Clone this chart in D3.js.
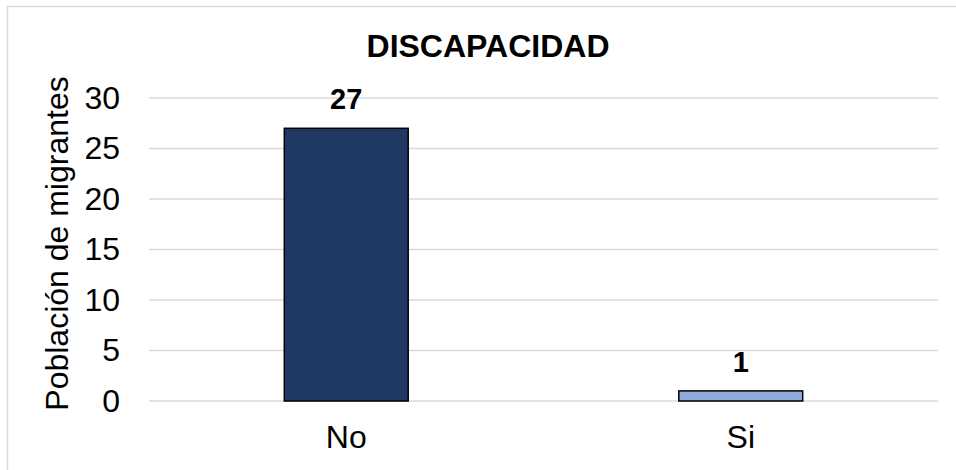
<!DOCTYPE html>
<html>
<head>
<meta charset="utf-8">
<script src="https://cdn.jsdelivr.net/npm/d3@7"></script>
<style>
  body { margin: 0; background: #fff; }
  text { font-family: "Liberation Sans", Arial, sans-serif; fill: #000; }
</style>
</head>
<body>
<div id="chart"></div>
<script>
// data
var categories = ["No", "Si"];
var values = [27, 1];
var barColors = ["#203864", "#8FAADC"];
var yTicks = [0, 5, 10, 15, 20, 25, 30];
var title = "DISCAPACIDAD";
var yLabel = "Población de migrantes";

var W = 956, H = 470;
var margin = {top: 98, right: 18, bottom: 69, left: 149};
var width = W - margin.left - margin.right,
    height = H - margin.top - margin.bottom;

var svg = d3.select("#chart").append("svg")
    .attr("width", W)
    .attr("height", H);

// outer chart border (right/bottom fall outside the picture)
svg.append("rect")
    .attr("x", 7.5).attr("y", 6.5)
    .attr("width", W + 20).attr("height", H + 20)
    .attr("fill", "none")
    .attr("stroke", "#D9D9D9")
    .attr("stroke-width", 1.5);

var g = svg.append("g")
    .attr("transform", "translate(" + margin.left + "," + margin.top + ")");

var x = d3.scaleBand().domain(categories).range([0, width]).padding(0);
var y = d3.scaleLinear().domain([0, 30]).range([height, 0]);

// gridlines
g.selectAll(".grid")
    .data(yTicks)
  .enter().append("line")
    .attr("x1", 0).attr("x2", width)
    .attr("y1", function(d) { return y(d); })
    .attr("y2", function(d) { return y(d); })
    .attr("stroke", "#D9D9D9")
    .attr("stroke-width", 1.5);

// y axis tick labels
var yAxis = g.append("g")
    .call(d3.axisLeft(y).tickValues(yTicks).tickSize(0).tickPadding(29));
yAxis.select(".domain").remove();
yAxis.selectAll("text")
    .style("font-size", "32px")
    .style("font-family", "Liberation Sans, Arial, sans-serif")
    .attr("fill", "#000");

// x axis labels
var xAxis = g.append("g")
    .attr("transform", "translate(0," + height + ")")
    .call(d3.axisBottom(x).tickSize(0).tickPadding(24));
xAxis.select(".domain").remove();
xAxis.selectAll("text")
    .style("font-size", "32px")
    .style("font-family", "Liberation Sans, Arial, sans-serif")
    .attr("fill", "#000");

// bars
var barW = x.bandwidth() * 0.314;
g.selectAll(".bar")
    .data(values)
  .enter().append("rect")
    .attr("x", function(d, i) { return x(categories[i]) + x.bandwidth() / 2 - barW / 2; })
    .attr("y", function(d) { return y(d); })
    .attr("width", barW)
    .attr("height", function(d) { return height - y(d); })
    .attr("fill", function(d, i) { return barColors[i]; })
    .attr("stroke", "#000")
    .attr("stroke-width", 1.5);

// value labels
g.selectAll(".lbl")
    .data(values)
  .enter().append("text")
    .attr("x", function(d, i) { return x(categories[i]) + x.bandwidth() / 2; })
    .attr("y", function(d) { return y(d) - 19; })
    .attr("text-anchor", "middle")
    .style("font-size", "29px")
    .style("font-weight", "bold")
    .text(function(d) { return d; });

// title
svg.append("text")
    .attr("x", 488)
    .attr("y", 57)
    .attr("text-anchor", "middle")
    .style("font-size", "32px")
    .style("font-weight", "bold")
    .text(title);

// y axis label
svg.append("text")
    .attr("transform", "translate(68," + (margin.top + height / 2 - 6) + ") rotate(-90)")
    .attr("text-anchor", "middle")
    .style("font-size", "32px")
    .text(yLabel);
</script>
</body>
</html>
